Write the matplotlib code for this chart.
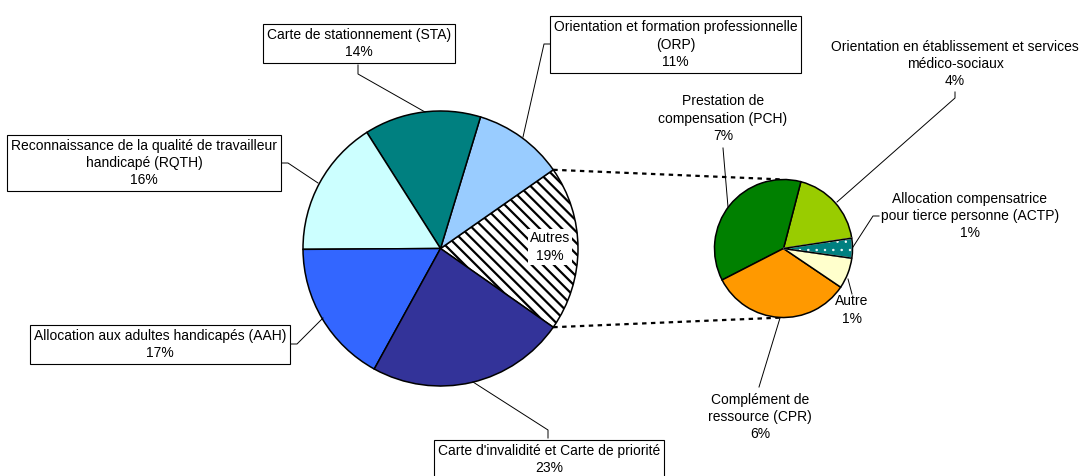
import numpy as np
import matplotlib.pyplot as plt

W, H = 1082, 476

# big pie (share of all requests, %)
main_labels = ["Autres",
               "Orientation et formation professionnelle\n(ORP)",
               "Carte de stationnement (STA)",
               "Reconnaissance de la qualité de travailleur\nhandicapé (RQTH)",
               "Allocation aux adultes handicapés (AAH)",
               "Carte d'invalidité et Carte de priorité"]
main_values = [19.4, 10.6, 13.7, 16.1, 16.9, 23.3]
main_colors = ["white", "#99CCFF", "#008080", "#CCFFFF", "#3366FF", "#333399"]

# detail of "Autres"
sub_labels = ["Orientation en établissement et services\nmédico-sociaux",
              "Prestation de\ncompensation (PCH)",
              "Complément de\nressource (CPR)",
              "Autre",
              "Allocation compensatrice\npour tierce personne (ACTP)"]
sub_values = [3.6, 7.1, 6.4, 1.4, 0.9]
sub_colors = ["#99CC00", "#008000", "#FF9900", "#FFFFCC", "#008080"]

plt.rcParams['font.family'] = ['Liberation Sans', 'DejaVu Sans']
plt.rcParams['font.size'] = 10
plt.rcParams['hatch.linewidth'] = 1.6

def Y(y):
    # pixel row -> data y
    return H - y

fig = plt.figure(figsize=(W / 100, H / 100), dpi=100)
ax = fig.add_axes([0, 0, 1, 1])

big_c, big_r = (440.5, Y(248.5)), 137.5
small_c, small_r = (783.5, Y(248.5)), 69

wedges, _ = ax.pie(main_values, colors=main_colors, startangle=-main_values[0] * 3.6 / 2,
                   center=big_c, radius=big_r, frame=True,
                   wedgeprops=dict(edgecolor='black', linewidth=1.1))
wedges[0].set_hatch('\\\\\\')

swedges, _ = ax.pie(sub_values, colors=sub_colors, startangle=8.6,
                    center=small_c, radius=small_r, frame=True,
                    wedgeprops=dict(edgecolor='black', linewidth=1.1))
# dotted teal slice: white dots, then outline again in black
w = swedges[4]
w.set_edgecolor('white')
w.set_hatch('..')
if hasattr(w, 'set_hatch_linewidth'):
    w.set_hatch_linewidth(0.5)
ax.add_patch(plt.matplotlib.patches.Wedge(w.center, w.r, w.theta1, w.theta2,
                                          fill=False, edgecolor='black', linewidth=1.1))

# dotted connectors
for ang, sy in [(wedges[0].theta2, 1), (wedges[0].theta1, -1)]:
    a = np.radians(ang)
    x0 = big_c[0] + big_r * np.cos(a)
    y0 = big_c[1] + big_r * np.sin(a)
    ax.plot([x0, small_c[0]], [y0, small_c[1] + sy * small_r], color='black',
            linewidth=1.6, linestyle=(0, (2, 2)), zorder=0)

# label placement (pixels) and leader lines
main_pos = [(550, 247), (675.5, 44.5), (359, 43.5), (144.3, 163), (160, 344.2), (549, 459.5)]
main_leaders = [None,
                [(552, 44), (544, 44), (523, 137)],
                [(358, 65), (358, 74), (425, 112)],
                [(279, 163), (288, 163), (318, 183)],
                [(288, 344), (297, 344), (323, 318)],
                [(548, 438), (548, 430), (473, 382)]]
sub_pos = [(955, 64), (723, 118.5), (760, 417), (852, 310), (970, 216)]
sub_leaders = [[(955, 92), (955, 98), (837, 202)],
               [(723, 148), (728, 207)],
               [(759, 387), (780, 318)],
               [(848, 279), (852, 294)],
               [(879, 216), (873, 216), (853, 247)]]

for i, (lab, v) in enumerate(zip(main_labels, main_values)):
    x, y = main_pos[i]
    if i == 0:
        box = dict(boxstyle='square,pad=0.15', facecolor='white', edgecolor='none')
    else:
        box = dict(boxstyle='square,pad=0.28', facecolor='white', edgecolor='black', linewidth=0.8)
    ax.text(x, Y(y), f"{lab}\n{v:.0f}%", ha='center', va='center', linespacing=1.3,
            bbox=box, zorder=5)
    if main_leaders[i]:
        pts = np.array(main_leaders[i])
        ax.plot(pts[:, 0], Y(pts[:, 1]), color='black', linewidth=0.7, zorder=4)

for i, (lab, v) in enumerate(zip(sub_labels, sub_values)):
    x, y = sub_pos[i]
    ax.text(x, Y(y), f"{lab}\n{v:.0f}%", ha='center', va='center', linespacing=1.3, zorder=5)
    pts = np.array(sub_leaders[i])
    ax.plot(pts[:, 0], Y(pts[:, 1]), color='black', linewidth=0.7, zorder=4)

ax.set_xlim(0, W)
ax.set_ylim(0, H)
ax.set_aspect('equal')
ax.axis('off')

fig.savefig('out.png', dpi=100)
